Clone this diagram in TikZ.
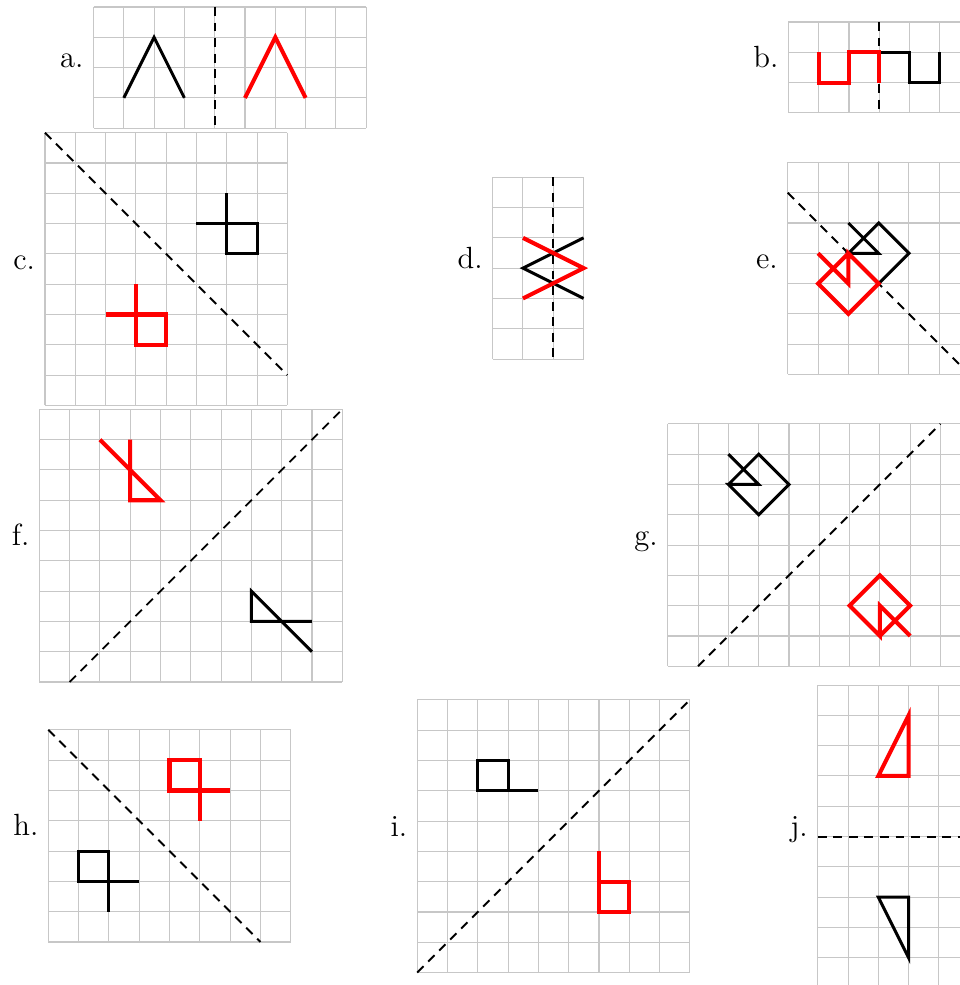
\documentclass[tikz,border=0pt]{standalone}
\usepackage{tikz}
\usetikzlibrary{positioning}

% square grid of #1 columns and #2 rows
\newcommand{\sqgrid}[2]{%
  \foreach \i in {0,...,#1} {\draw[gridline] (\i,0) -- (\i,#2);}
  \foreach \j in {0,...,#2} {\draw[gridline] (0,\j) -- (#1,\j);}}

\begin{document}
\begin{tikzpicture}[x=0.5cm,y=-0.5cm,
  gridline/.style={draw=black!22,line width=0.5pt},
  mirror/.style={line width=0.9pt,dash pattern=on 4.2pt off 3.1pt},
  orig/.style={line width=1.4pt},
  image/.style={red,line width=1.9pt},
  tag/.style={anchor=base east,font=\Large}]
\useasboundingbox (0,0) rectangle (31.68,32.51);
\clip (0,0) rectangle (31.68,32.51);

% a.
\begin{scope}[shift={(3.086,0.231)}]
\sqgrid{9}{4}
\node[tag] (la) at (-0.08,2) {a.};
\draw[mirror] (4,0) -- (4,4);
\draw[orig] (1,3) -- (2,1) -- (3,3);
\draw[image] (5,3) -- (6,1) -- (7,3);
\end{scope}

% b.
\begin{scope}[shift={(26.02,0.726)}]
\sqgrid{6}{3}
\node[tag] (lb) at (-0.08,1.5) {b.};
\draw[mirror] (3,0) -- (3,3);
\draw[orig] (3,1) -- (4,1) -- (4,2) -- (5,2) -- (5,1);
\draw[image] (1,1) -- (1,2) -- (2,2) -- (2,1) -- (3,1) -- (3,2);
\end{scope}

% c.
\begin{scope}[shift={(1.485,4.38)}]
\sqgrid{8}{9}
\node[tag] (lc) at (-0.08,4.5) {c.};
\draw[mirror] (0,0) -- (8,8);
\draw[orig] (6,2) -- (6,4) -- (7,4) -- (7,3) -- (5,3);
\draw[image] (3,5) -- (3,7) -- (4,7) -- (4,6) -- (2,6);
\end{scope}

% d.
\begin{scope}[shift={(16.26,5.85)}]
\sqgrid{3}{6}
\node[tag] (ld) at (-0.08,3) {d.};
\draw[mirror] (2,0) -- (2,6);
\draw[orig] (3,2) -- (1,3) -- (3,4);
\draw[image] (1,2) -- (3,3) -- (1,4);
\end{scope}

% e.
\begin{scope}[shift={(26.0,5.36)}]
\sqgrid{6}{7}
\node[tag] (le) at (-0.08,3.5) {e.};
\draw[mirror] (0,1) -- (6,7);
\draw[orig] (2,2) -- (3,3) -- (2,3) -- (3,4) -- (4,3) -- (3,2) -- (2,3);
\draw[image] (1,3) -- (2,4) -- (2,3) -- (3,4) -- (2,5) -- (1,4) -- (2,3);
\end{scope}

% f.
\begin{scope}[shift={(1.297,13.51)}]
\sqgrid{10}{9}
\node[tag] (lf) at (-0.08,4.5) {f.};
\draw[mirror] (1,9) -- (10,0);
\draw[orig] (9,7) -- (7,7) -- (7,6) -- (9,8);
\draw[image] (3,1) -- (3,3) -- (4,3) -- (2,1);
\end{scope}

% g.
\begin{scope}[shift={(22.04,13.99)}]
\sqgrid{10}{8}
\node[tag] (lg) at (-0.08,4) {g.};
\draw[mirror] (1,8) -- (9,0);
\draw[orig] (2,1) -- (3,2) -- (2,2) -- (3,3) -- (4,2) -- (3,1) -- (2,2);
\draw[image] (8,7) -- (7,6) -- (7,7) -- (6,6) -- (7,5) -- (8,6) -- (7,7);
\end{scope}

% h.
\begin{scope}[shift={(1.594,24.09)}]
\sqgrid{8}{7}
\node[tag] (lh) at (-0.08,3.5) {h.};
\draw[mirror] (0,0) -- (7,7);
\draw[orig] (2,6) -- (2,4) -- (1,4) -- (1,5) -- (3,5);
\draw[image] (6,2) -- (4,2) -- (4,1) -- (5,1) -- (5,3);
\end{scope}

% i.
\begin{scope}[shift={(13.77,23.10)}]
\sqgrid{9}{9}
\node[tag] (li) at (-0.08,4.5) {i.};
\draw[mirror] (0,9) -- (9,0);
\draw[orig] (4,3) -- (2,3) -- (2,2) -- (3,2) -- (3,3);
\draw[image] (6,5) -- (6,7) -- (7,7) -- (7,6) -- (6,6);
\end{scope}

% j.
\begin{scope}[shift={(26.99,22.61)}]
\sqgrid{5}{10}
\node[tag] (lj) at (-0.08,5) {j.};
\draw[mirror] (0,5) -- (5,5);
\draw[orig] (2,7) -- (3,7) -- (3,9) -- cycle;
\draw[image] (2,3) -- (3,3) -- (3,1) -- cycle;
\end{scope}

\end{tikzpicture}
\end{document}
